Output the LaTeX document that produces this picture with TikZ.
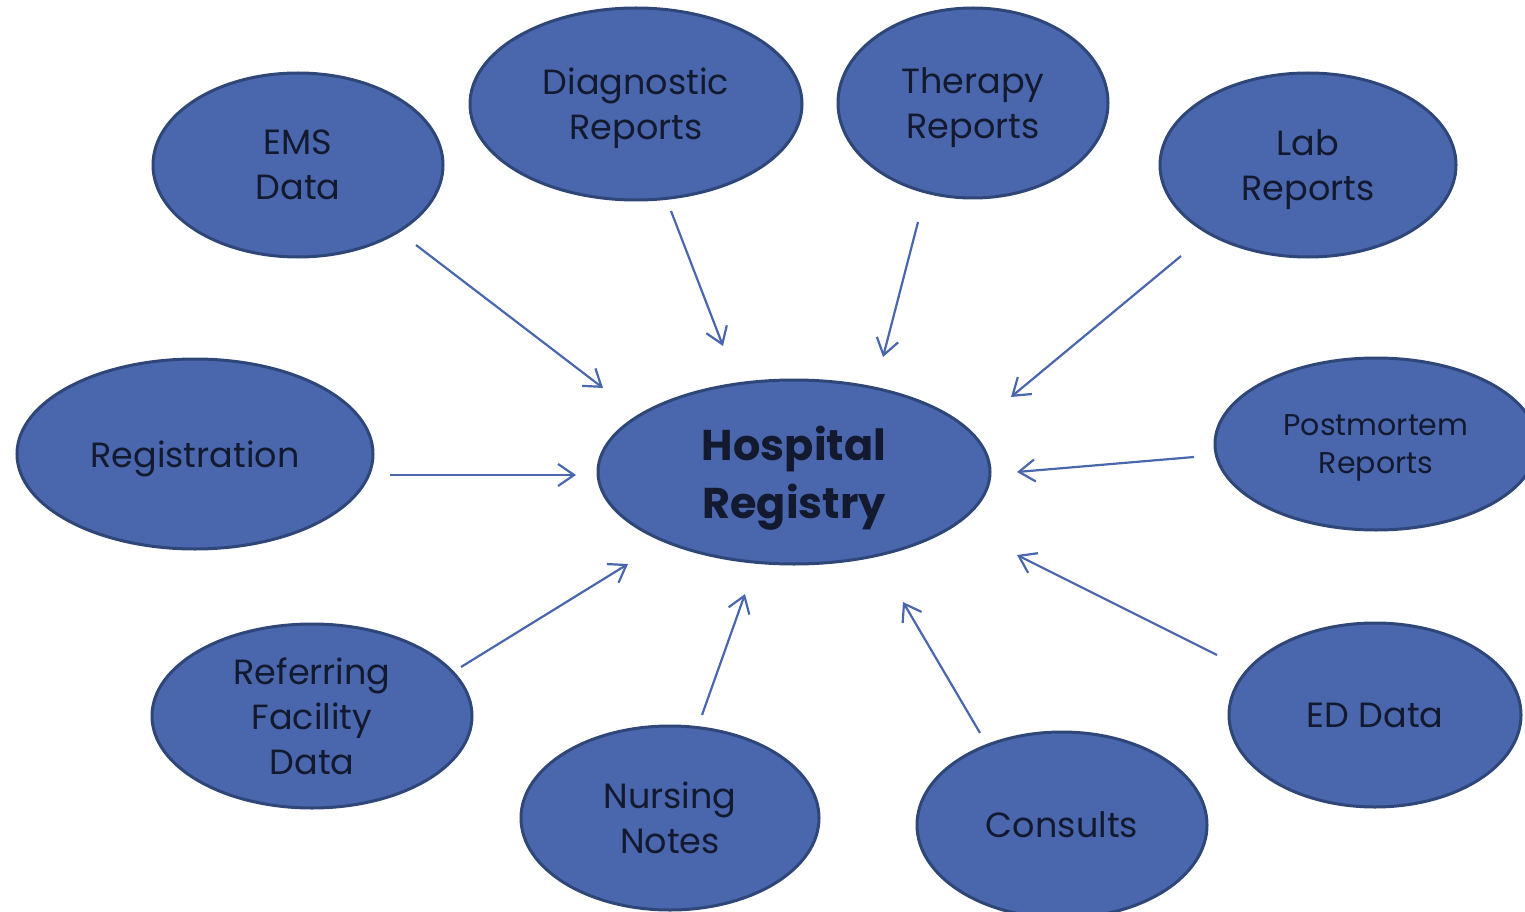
\documentclass[tikz,border=0pt]{standalone}
\usepackage{fontspec}
\setmainfont{Poppins}
\usetikzlibrary{shapes.geometric,arrows.meta}
\definecolor{fillblue}{HTML}{4A66AC}
\definecolor{edgeblue}{HTML}{2F4679}
\definecolor{txtnavy}{HTML}{131A30}
\tikzset{
  blob/.style={ellipse, draw=edgeblue, fill=fillblue, line width=3pt, inner sep=0pt,
    text=txtnavy, align=center, text depth=0pt, font=\fontsize{35}{45}\selectfont},
  feed/.style={draw=fillblue, line width=2.2pt,
    -{Straight Barb[length=16pt,width=22pt,line width=2.2pt]}}
}
\begin{document}
\begin{tikzpicture}[x=1pt,y=-1pt]
\useasboundingbox (0,0) rectangle (1525,912);
\begin{scope}
\clip (0,0) rectangle (1525,912);
\node[blob, minimum width=290pt, minimum height=184pt] (ems) at (298,165) {EMS\\Data};
\node[blob, minimum width=332pt, minimum height=192pt] (diag) at (636,104) {Diagnostic\\Reports};
\node[blob, minimum width=270pt, minimum height=190pt] (ther) at (973,103) {Therapy\\Reports};
\node[blob, minimum width=296pt, minimum height=184pt] (lab) at (1308,165) {Lab\\Reports};
\node[blob, minimum width=356pt, minimum height=190pt] (reg) at (195,454) {Registration};
\node[blob, minimum width=392pt, minimum height=184pt, font=\bfseries\fontsize{43}{58}\selectfont] (hosp) at (794,472) {Hospital\\Registry};
\node[blob, minimum width=322pt, minimum height=172pt, font=\fontsize{30}{38}\selectfont] (post) at (1376,444) {Postmortem\\Reports};
\node[blob, minimum width=320pt, minimum height=184pt] (ref) at (312,716) {Referring\\Facility\\Data};
\node[blob, minimum width=298pt, minimum height=184pt] (nurs) at (670,818) {Nursing\\Notes};
\node[blob, minimum width=290pt, minimum height=186pt] (cons) at (1062,825) {Consults};
\node[blob, minimum width=292pt, minimum height=184pt] (ed) at (1375,715) {ED Data};
\end{scope}
% arrow ends
\coordinate (emsA) at (416,245);  \coordinate (emsB) at (603,388);
\coordinate (diagA) at (671,211); \coordinate (diagB) at (723,346);
\coordinate (therA) at (918,222); \coordinate (therB) at (883,357);
\coordinate (labA) at (1181,256); \coordinate (labB) at (1011,397);
\coordinate (regA) at (390,475);  \coordinate (regB) at (576,475);
\coordinate (postA) at (1194,457); \coordinate (postB) at (1017,472);
\coordinate (refA) at (461,667);  \coordinate (refB) at (628,564);
\coordinate (nursA) at (702,715); \coordinate (nursB) at (745,594);
\coordinate (consA) at (980,733); \coordinate (consB) at (903,602);
\coordinate (edA) at (1217,655);  \coordinate (edB) at (1017,555);
\draw[feed] (emsA) -- (emsB);
\draw[feed] (diagA) -- (diagB);
\draw[feed] (therA) -- (therB);
\draw[feed] (labA) -- (labB);
\draw[feed] (regA) -- (regB);
\draw[feed] (postA) -- (postB);
\draw[feed] (refA) -- (refB);
\draw[feed] (nursA) -- (nursB);
\draw[feed] (consA) -- (consB);
\draw[feed] (edA) -- (edB);
\end{tikzpicture}
\end{document}
